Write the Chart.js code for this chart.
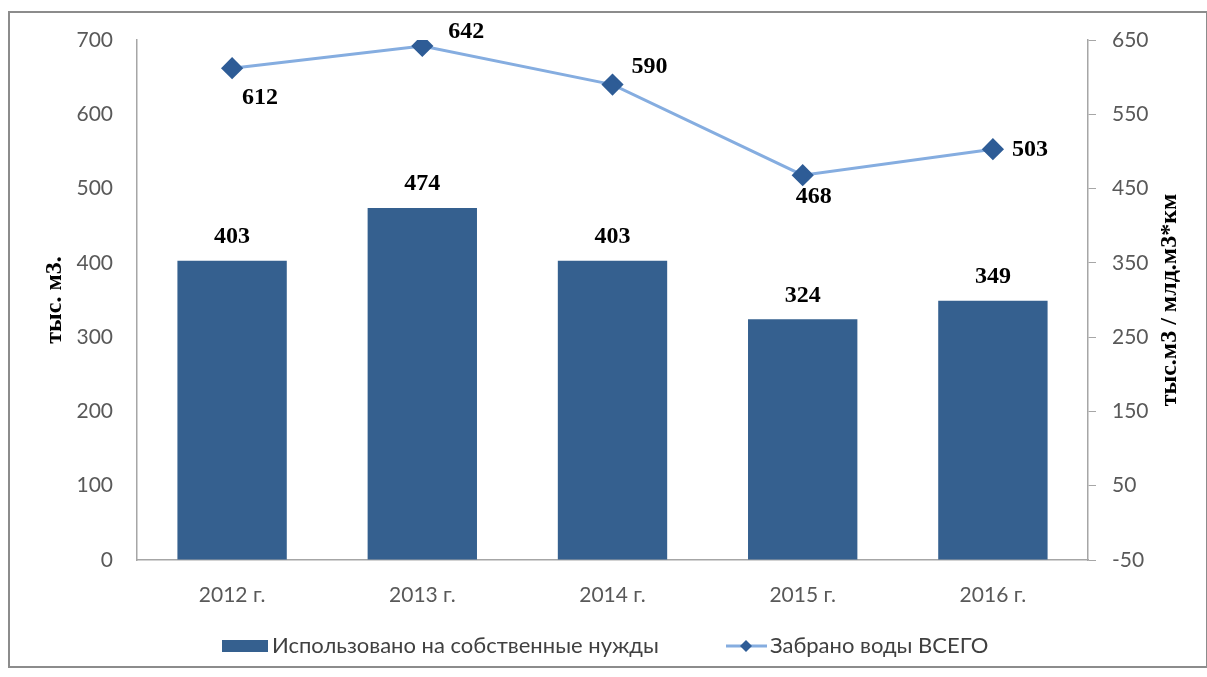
<!DOCTYPE html>
<html>
<head>
<meta charset="utf-8">
<script src="https://cdn.jsdelivr.net/npm/chart.js@4.4.0/dist/chart.umd.min.js"></script>
<style>
  html, body { margin: 0; padding: 0; background: #fff; }
  canvas { display: block; }
</style>
</head>
<body>
<canvas id="waterChart" width="1207" height="677"></canvas>
<script>
// data
const years = ['2012 г.', '2013 г.', '2014 г.', '2015 г.', '2016 г.'];
const usedOwnNeeds = [403, 474, 403, 324, 349];
const takenTotal = [612, 642, 590, 468, 503];
const barName = 'Использовано на собственные нужды';
const lineName = 'Забрано воды ВСЕГО';
const leftTitle = 'тыс. м3.';
const rightTitle = 'тыс.м3 / млд.м3*км';
const leftRange = [0, 700];
const rightRange = [-50, 650];
const tickStep = 100;

// where each line label sits relative to its point
const lineLabelOffsets = [[28, 30], [44, -14], [37, -18], [11, 22], [37, 1]];

const barColor = '#35608f';
const lineColor = '#85ade0';
const markerColor = '#2e5c96';
const axisColor = '#a6a6a6';
const tickColor = '#595959';
const tickFont = { family: 'Lato', size: 21 };
const labelFont = 'bold 24px "Liberation Serif"';

const decor = {
  id: 'decor',
  beforeDraw(chart) {
    const ctx = chart.ctx;
    ctx.save();
    ctx.fillStyle = '#fff';
    ctx.fillRect(0, 0, chart.width, chart.height);
    ctx.strokeStyle = '#8c8c8c';
    ctx.lineWidth = 2;
    ctx.strokeRect(9, 12, 1198, 655);
    ctx.restore();
  },
  afterDatasetsDraw(chart) {
    const ctx = chart.ctx;
    ctx.save();
    ctx.font = labelFont;
    ctx.fillStyle = '#000';
    ctx.textAlign = 'center';
    ctx.textBaseline = 'middle';
    chart.getDatasetMeta(0).data.forEach((bar, i) => {
      ctx.fillText(usedOwnNeeds[i], bar.x, bar.y - 24);
    });
    chart.getDatasetMeta(1).data.forEach((pt, i) => {
      const [dx, dy] = lineLabelOffsets[i];
      ctx.fillText(takenTotal[i], pt.x + dx, pt.y + dy);
    });
    ctx.restore();
  },
  afterDraw(chart) {
    const ctx = chart.ctx;
    const area = chart.chartArea;
    const midY = (area.top + area.bottom) / 2;
    ctx.save();
    // axis titles, both read bottom to top
    ctx.font = 'bold 24px "Liberation Serif"';
    ctx.fillStyle = '#000';
    ctx.textAlign = 'center';
    ctx.textBaseline = 'middle';
    [[55, leftTitle], [1170, rightTitle]].forEach(([x, txt]) => {
      ctx.save();
      ctx.translate(x, midY);
      ctx.rotate(-Math.PI / 2);
      ctx.fillText(txt, 0, 0);
      ctx.restore();
    });

    // legend
    const ly = 646;
    ctx.font = '22px Lato';
    ctx.textAlign = 'left';
    ctx.fillStyle = barColor;
    ctx.fillRect(222, ly - 6, 46, 12);
    ctx.fillStyle = '#404040';
    ctx.fillText(barName, 272, ly);

    ctx.strokeStyle = lineColor;
    ctx.lineWidth = 3;
    ctx.beginPath();
    ctx.moveTo(726, ly);
    ctx.lineTo(767, ly);
    ctx.stroke();
    ctx.fillStyle = markerColor;
    ctx.beginPath();
    ctx.moveTo(746, ly - 6);
    ctx.lineTo(752, ly);
    ctx.lineTo(746, ly + 6);
    ctx.lineTo(740, ly);
    ctx.closePath();
    ctx.fill();
    ctx.fillStyle = '#404040';
    ctx.fillText(lineName, 770, ly);
    ctx.restore();
  }
};

new Chart(document.getElementById('waterChart'), {
  type: 'bar',
  data: {
    labels: years,
    datasets: [
      {
        type: 'bar',
        label: barName,
        data: usedOwnNeeds,
        yAxisID: 'y',
        backgroundColor: barColor,
        categoryPercentage: 1,
        barPercentage: 0.575,
        order: 1
      },
      {
        type: 'line',
        label: lineName,
        data: takenTotal,
        yAxisID: 'y1',
        borderColor: lineColor,
        borderWidth: 3,
        pointStyle: 'rectRot',
        pointRadius: 9,
        pointBackgroundColor: markerColor,
        pointBorderColor: markerColor,
        tension: 0,
        order: 0
      }
    ]
  },
  options: {
    responsive: false,
    animation: false,
    layout: { padding: { top: 40, left: 0, right: 0, bottom: 0 } },
    plugins: { legend: { display: false }, tooltip: { enabled: false } },
    scales: {
      x: {
        grid: { display: false },
        border: { display: true, color: axisColor, width: 1.5 },
        ticks: { color: tickColor, font: tickFont, padding: 15 },
        afterFit(s) { s.height = 117; }
      },
      y: {
        position: 'left',
        min: leftRange[0],
        max: leftRange[1],
        grid: { drawOnChartArea: false, drawTicks: false },
        border: { display: true, color: axisColor, width: 1.5 },
        ticks: { stepSize: tickStep, color: tickColor, font: tickFont, padding: 24 },
        afterFit(s) { s.width = 137; }
      },
      y1: {
        position: 'right',
        min: rightRange[0],
        max: rightRange[1],
        grid: { drawOnChartArea: false, drawTicks: true, tickLength: 8, color: axisColor },
        border: { display: true, color: axisColor, width: 1.5 },
        ticks: { stepSize: tickStep, color: tickColor, font: tickFont, padding: 16 },
        afterFit(s) { s.width = 119; }
      }
    }
  },
  plugins: [decor]
});
</script>
</body>
</html>
